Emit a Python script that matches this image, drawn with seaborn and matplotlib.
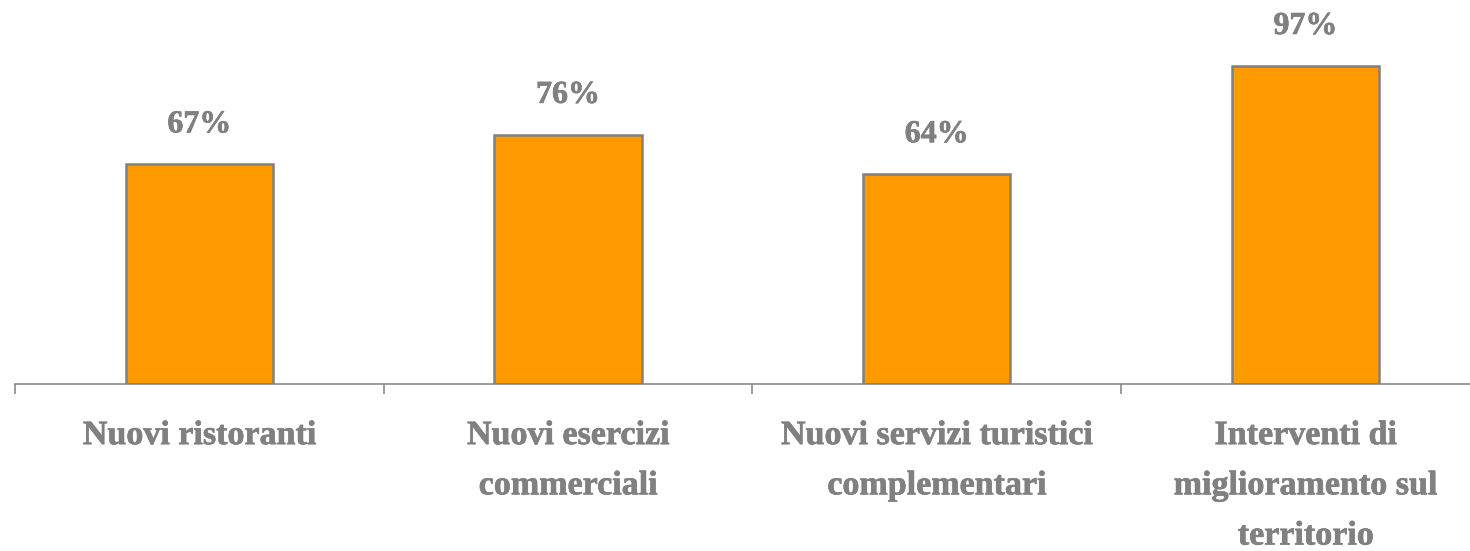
import matplotlib
matplotlib.use("Agg")
import matplotlib.pyplot as plt
import matplotlib.patheffects as pe
import seaborn as sns
import pandas as pd

categories = [
    "Nuovi ristoranti",
    "Nuovi esercizi\ncommerciali",
    "Nuovi servizi turistici\ncomplementari",
    "Interventi di\nmiglioramento sul\nterritorio",
]
values = [0.67, 0.76, 0.64, 0.97]
value_labels = ["67%", "76%", "64%", "97%"]

sns.set_style("white")
plt.rcParams["font.family"] = ["Liberation Serif", "DejaVu Serif"]

grey = "#808080"
orange = "#FF9900"
# testo un po' piu' pesante, come nell'originale
heavy = [pe.withStroke(linewidth=0.5, foreground=grey)]

df = pd.DataFrame({"categoria": categories, "valore": values})

fig = plt.figure(figsize=(14.7, 5.51), dpi=100)
ax = fig.add_axes([15 / 1470, 167 / 551, 4 * 368.7 / 1470, 328 / 551])

sns.barplot(data=df, x="categoria", y="valore", color=orange, width=0.4,
            edgecolor=grey, linewidth=1.8, saturation=1, ax=ax)

ax.set_xlim(-0.5, 3.5)
ax.set_ylim(0, 1.0)

# etichette valori sopra le barre
for i, (v, lab) in enumerate(zip(values, value_labels)):
    ax.text(i, v + 0.12, lab, ha="center", va="center", fontsize=23,
            fontweight="bold", color=grey, clip_on=False, path_effects=heavy)

ax.set_xlabel("")
ax.set_ylabel("")
ax.set_yticks([])
for s in ["top", "right", "left"]:
    ax.spines[s].set_visible(False)
ax.spines["bottom"].set_color(grey)
ax.spines["bottom"].set_linewidth(1.1)

# tacche tra le categorie
ax.set_xticks([-0.5, 0.5, 1.5, 2.5, 3.5], minor=True)
ax.tick_params(axis="x", which="minor", length=7, width=1.1, color=grey, bottom=True)
ax.tick_params(axis="x", which="major", length=0, pad=26, labelsize=24.5,
               labelcolor=grey)
for t in ax.get_xticklabels():
    t.set_fontweight("bold")
    t.set_linespacing(1.8)
    t.set_ha("center")
    t.set_va("top")
    t.set_path_effects(heavy)

fig.savefig("out.png", dpi=100, facecolor="white")
